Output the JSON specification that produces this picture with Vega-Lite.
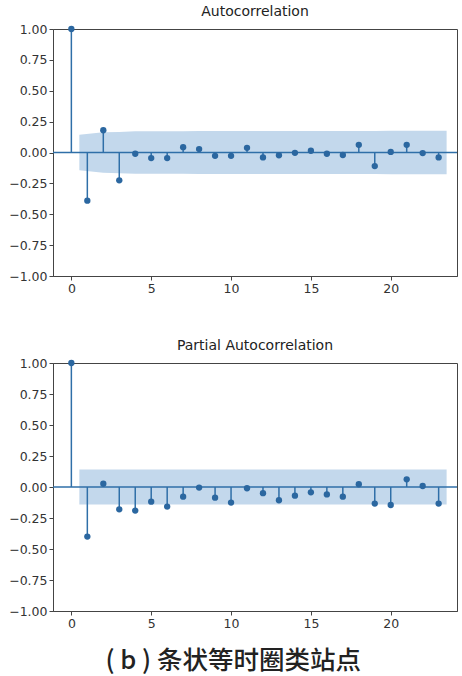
{
  "$schema": "https://vega.github.io/schema/vega-lite/v6.json",
  "background": "white",
  "padding": {"left": 8, "right": 3, "top": 4, "bottom": 0},
  "title": {"text": "( b ) 条状等时圈类站点", "orient": "bottom", "anchor": "middle", "font": "Noto Sans CJK SC", "fontSize": 25.5, "fontWeight": 500, "color": "#222", "offset": 19},
  "datasets": {
    "acf": [
      {"lag": 0, "v": 1.0}, {"lag": 1, "v": -0.39}, {"lag": 2, "v": 0.18}, {"lag": 3, "v": -0.225},
      {"lag": 4, "v": -0.01}, {"lag": 5, "v": -0.045}, {"lag": 6, "v": -0.045}, {"lag": 7, "v": 0.043},
      {"lag": 8, "v": 0.028}, {"lag": 9, "v": -0.027}, {"lag": 10, "v": -0.027}, {"lag": 11, "v": 0.038},
      {"lag": 12, "v": -0.04}, {"lag": 13, "v": -0.022}, {"lag": 14, "v": -0.003}, {"lag": 15, "v": 0.014},
      {"lag": 16, "v": -0.01}, {"lag": 17, "v": -0.02}, {"lag": 18, "v": 0.062}, {"lag": 19, "v": -0.11},
      {"lag": 20, "v": 0.005}, {"lag": 21, "v": 0.062}, {"lag": 22, "v": -0.005}, {"lag": 23, "v": -0.04}
    ],
    "acfBand": [
      {"x": 0.5, "lo": -0.143, "hi": 0.143}, {"x": 2, "lo": -0.163, "hi": 0.163}, {"x": 3, "lo": -0.167, "hi": 0.167},
      {"x": 4, "lo": -0.173, "hi": 0.173}, {"x": 5, "lo": -0.173, "hi": 0.173}, {"x": 6, "lo": -0.173, "hi": 0.173},
      {"x": 7, "lo": -0.173, "hi": 0.173}, {"x": 8, "lo": -0.1735, "hi": 0.1735}, {"x": 9, "lo": -0.1736, "hi": 0.1736},
      {"x": 10, "lo": -0.1737, "hi": 0.1737}, {"x": 11, "lo": -0.1738, "hi": 0.1738}, {"x": 12, "lo": -0.1739, "hi": 0.1739},
      {"x": 13, "lo": -0.1741, "hi": 0.1741}, {"x": 14, "lo": -0.1742, "hi": 0.1742}, {"x": 15, "lo": -0.1742, "hi": 0.1742},
      {"x": 16, "lo": -0.1742, "hi": 0.1742}, {"x": 17, "lo": -0.1742, "hi": 0.1742}, {"x": 18, "lo": -0.1743, "hi": 0.1743},
      {"x": 19, "lo": -0.1747, "hi": 0.1747}, {"x": 20, "lo": -0.1761, "hi": 0.1761}, {"x": 21, "lo": -0.1761, "hi": 0.1761},
      {"x": 22, "lo": -0.1766, "hi": 0.1766}, {"x": 23.5, "lo": -0.1766, "hi": 0.1766}
    ],
    "pacf": [
      {"lag": 0, "v": 1.0}, {"lag": 1, "v": -0.40}, {"lag": 2, "v": 0.027}, {"lag": 3, "v": -0.18},
      {"lag": 4, "v": -0.19}, {"lag": 5, "v": -0.118}, {"lag": 6, "v": -0.158}, {"lag": 7, "v": -0.078},
      {"lag": 8, "v": -0.005}, {"lag": 9, "v": -0.086}, {"lag": 10, "v": -0.126}, {"lag": 11, "v": -0.01},
      {"lag": 12, "v": -0.05}, {"lag": 13, "v": -0.107}, {"lag": 14, "v": -0.07}, {"lag": 15, "v": -0.043},
      {"lag": 16, "v": -0.06}, {"lag": 17, "v": -0.078}, {"lag": 18, "v": 0.022}, {"lag": 19, "v": -0.134},
      {"lag": 20, "v": -0.145}, {"lag": 21, "v": 0.062}, {"lag": 22, "v": 0.008}, {"lag": 23, "v": -0.134}
    ],
    "pacfBand": [
      {"x": 0.5, "lo": -0.141, "hi": 0.141}, {"x": 23.5, "lo": -0.141, "hi": 0.141}
    ],
    "zero": [{"z": 0}]
  },
  "config": {
    "font": "DejaVu Sans",
    "view": {"stroke": "#444", "strokeWidth": 1},
    "axis": {
      "grid": false, "domainColor": "#444", "tickColor": "#444", "tickSize": 4,
      "labelColor": "#333", "labelFontSize": 12.5, "labelPadding": 2, "title": null,
      "labelOverlap": false
    },
    "title": {"fontSize": 14, "fontWeight": "normal", "color": "#222", "offset": 0}
  },
  "vconcat": [
    {
      "title": "Autocorrelation",
      "width": 404, "height": 247,
      "encoding": {
        "x": {"type": "quantitative", "scale": {"domain": [-1.15, 24.15], "nice": false, "zero": false}, "axis": {"values": [0, 5, 10, 15, 20]}},
        "y": {"type": "quantitative", "scale": {"domain": [-1, 1], "nice": false}, "axis": {"values": [-1, -0.75, -0.5, -0.25, 0, 0.25, 0.5, 0.75, 1], "labelExpr": "replace(format(datum.value, '.2f'), '-', '−')", "labelOverlap": false}}
      },
      "layer": [
        {
          "data": {"name": "acfBand"},
          "mark": {"type": "area", "color": "#c3d8ec", "opacity": 1},
          "encoding": {
            "x": {"field": "x"},
            "y": {"field": "lo"},
            "y2": {"field": "hi"}
          }
        },
        {
          "data": {"name": "zero"},
          "mark": {"type": "rule", "color": "#2f6fa8", "strokeWidth": 1.5},
          "encoding": {"y": {"field": "z"}, "x": null}
        },
        {
          "data": {"name": "acf"},
          "mark": {"type": "rule", "color": "#2f6fa8", "strokeWidth": 1.5},
          "encoding": {
            "x": {"field": "lag"},
            "y": {"field": "v"},
            "y2": {"datum": 0}
          }
        },
        {
          "data": {"name": "acf"},
          "mark": {"type": "point", "filled": true, "color": "#2b67a0", "opacity": 1, "size": 40},
          "encoding": {
            "x": {"field": "lag"},
            "y": {"field": "v"}
          }
        }
      ]
    },
    {
      "title": "Partial Autocorrelation",
      "width": 404, "height": 248,
      "encoding": {
        "x": {"type": "quantitative", "scale": {"domain": [-1.15, 24.15], "nice": false, "zero": false}, "axis": {"values": [0, 5, 10, 15, 20]}},
        "y": {"type": "quantitative", "scale": {"domain": [-1, 1], "nice": false}, "axis": {"values": [-1, -0.75, -0.5, -0.25, 0, 0.25, 0.5, 0.75, 1], "labelExpr": "replace(format(datum.value, '.2f'), '-', '−')", "labelOverlap": false}}
      },
      "layer": [
        {
          "data": {"name": "pacfBand"},
          "mark": {"type": "area", "color": "#c3d8ec", "opacity": 1},
          "encoding": {
            "x": {"field": "x"},
            "y": {"field": "lo"},
            "y2": {"field": "hi"}
          }
        },
        {
          "data": {"name": "zero"},
          "mark": {"type": "rule", "color": "#2f6fa8", "strokeWidth": 1.5},
          "encoding": {"y": {"field": "z"}, "x": null}
        },
        {
          "data": {"name": "pacf"},
          "mark": {"type": "rule", "color": "#2f6fa8", "strokeWidth": 1.5},
          "encoding": {
            "x": {"field": "lag"},
            "y": {"field": "v"},
            "y2": {"datum": 0}
          }
        },
        {
          "data": {"name": "pacf"},
          "mark": {"type": "point", "filled": true, "color": "#2b67a0", "opacity": 1, "size": 40},
          "encoding": {
            "x": {"field": "lag"},
            "y": {"field": "v"}
          }
        }
      ]
    }
  ],
  "spacing": 43
}
